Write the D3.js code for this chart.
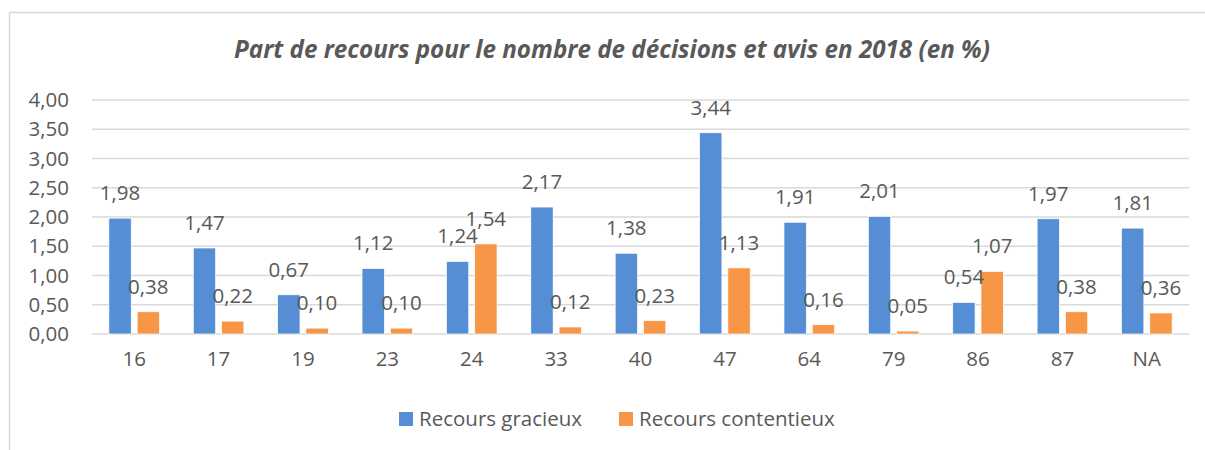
<!DOCTYPE html>
<html><head><meta charset="utf-8">
<script src="https://cdn.jsdelivr.net/npm/d3@7"></script>
<style>body{margin:0;background:#fff}svg{display:block}text{font-family:"Open Sans",sans-serif;fill:#595959}</style>
</head><body><svg id="c" width="1205" height="450"></svg>
<script>
const categories = ["16","17","19","23","24","33","40","47","64","79","86","87","NA"];
const seriesNames = ["Recours gracieux","Recours contentieux"];
const gracieux = [1.98,1.47,0.67,1.12,1.24,2.17,1.38,3.44,1.91,2.01,0.54,1.97,1.81];
const contentieux = [0.38,0.22,0.10,0.10,1.54,0.12,0.23,1.13,0.16,0.05,1.07,0.38,0.36];
const yTicks = [0,0.5,1,1.5,2,2.5,3,3.5,4];
const colors = ["#558ED5","#F79646"];
const title = "Part de recours pour le nombre de décisions et avis en 2018 (en %)";

const svg = d3.select("#c");
const fmt = v => d3.format(".2f")(v).replace(".", ",");
const FS = 20.5;

// chart frame
svg.append("path").attr("d","M9.5,450 V12.5 H1205").attr("fill","none").attr("stroke","#d9d9d9").attr("stroke-width",1.5);

const x0 = d3.scaleBand().domain(categories).range([92,1189]).paddingInner(0.4).paddingOuter(0.2);
const x1 = d3.scaleBand().domain(seriesNames).range([0,x0.bandwidth()]).paddingInner(0.21);
const y = d3.scaleLinear().domain([0,4]).range([334,100]);

// gridlines
svg.append("g").selectAll("line").data(yTicks).join("line")
  .attr("x1",92).attr("x2",1189).attr("y1",d=>y(d)).attr("y2",d=>y(d))
  .attr("stroke","#d9d9d9").attr("stroke-width",1.5);

// y axis labels
const yAxis = d3.axisLeft(y).tickValues(yTicks).tickFormat(fmt).tickSize(0).tickPadding(0);
const yg = svg.append("g").attr("transform","translate(69,0)").call(yAxis);
yg.select(".domain").remove();
yg.selectAll("text").attr("font-size",FS).style("fill","#595959").attr("font-family","Open Sans");

// x axis labels
const xAxis = d3.axisBottom(x0).tickSize(0).tickPadding(0);
const xg = svg.append("g").attr("transform","translate(0,351)").call(xAxis);
xg.select(".domain").remove();
xg.selectAll("text").attr("font-size",FS).style("fill","#595959").attr("font-family","Open Sans");

const data = categories.map((c,i)=>({cat:c, vals:[{s:seriesNames[0],v:gracieux[i],k:0},{s:seriesNames[1],v:contentieux[i],k:1}]}));

const groups = svg.append("g").selectAll("g").data(data).join("g")
  .attr("transform",d=>`translate(${x0(d.cat)},0)`);
groups.selectAll("rect").data(d=>d.vals).join("rect")
  .attr("x",d=>x1(d.s)).attr("width",x1.bandwidth())
  .attr("y",d=>y(d.v)).attr("height",d=>y(0)-y(d.v))
  .attr("fill",d=>colors[d.k]).attr("stroke","#fff").attr("stroke-width",0.7);
groups.selectAll("text").data(d=>d.vals).join("text")
  .attr("x",d=>x1(d.s)+x1.bandwidth()/2).attr("y",d=>y(d.v)-18)
  .attr("text-anchor","middle").attr("font-size",FS).text(d=>fmt(d.v));

// title
svg.append("text").attr("x",612).attr("y",58).attr("text-anchor","middle")
  .attr("font-size",24.2).attr("font-weight","bold").attr("font-style","italic").text(title);

// legend
const legX = [399,619];
const lg = svg.append("g").selectAll("g").data(seriesNames).join("g")
  .attr("transform",(d,i)=>`translate(${legX[i]},412)`);
lg.append("rect").attr("width",14).attr("height",14).attr("fill",(d,i)=>colors[i]);
lg.append("text").attr("x",20).attr("y",13.5).attr("font-size",FS).text(d=>d);
</script></body></html>
